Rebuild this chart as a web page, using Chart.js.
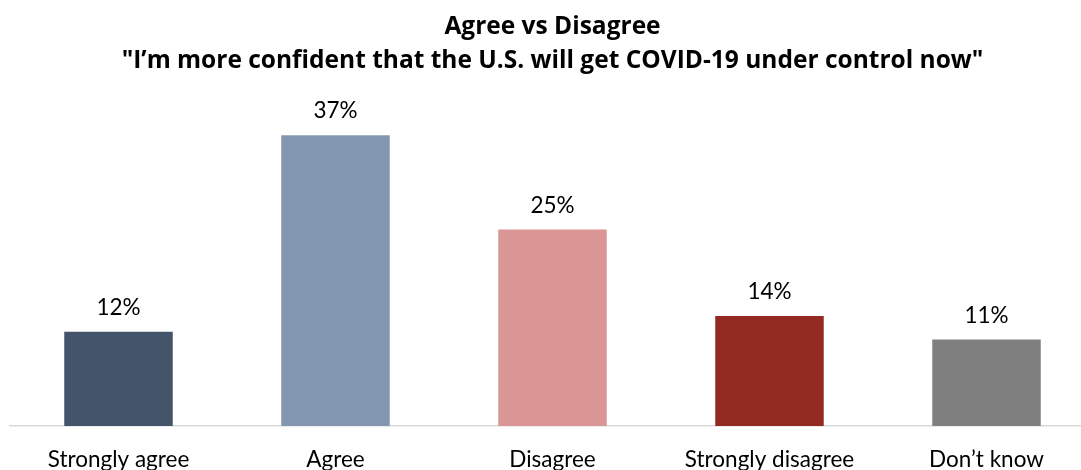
<!DOCTYPE html>
<html>
<head>
<meta charset="utf-8">
<script src="https://cdn.jsdelivr.net/npm/chart.js@4"></script>
<style>
  html, body { margin: 0; padding: 0; background: #fff; overflow: hidden; }
  #wrap { width: 1100px; height: 470px; }
</style>
</head>
<body>
<div id="wrap"><canvas id="agreeChart" width="1100" height="470"></canvas></div>
<script>
const categories = ['Strongly agree', 'Agree', 'Disagree', 'Strongly disagree', 'Don\u2019t know'];
const shares = [12, 37, 25, 14, 11];
const barColors = ['#44546a', '#8497b0', '#da9694', '#922a22', '#7f7f7f'];
const titleLines = ['Agree vs Disagree', '"I\u2019m more confident that the U.S. will get COVID-19 under control now"'];

const FONT = 'Lato, "Open Sans", sans-serif';
const TITLE_FONT = '"Open Sans", Lato, sans-serif';

// percent labels above each bar
const valueLabels = {
  id: 'valueLabels',
  afterDatasetsDraw(chart) {
    const ctx = chart.ctx;
    const meta = chart.getDatasetMeta(0);
    ctx.save();
    ctx.font = '22.5px ' + FONT;
    ctx.fillStyle = '#000';
    ctx.textAlign = 'center';
    ctx.textBaseline = 'middle';
    meta.data.forEach((bar, i) => {
      ctx.fillText(shares[i] + '%', bar.x, bar.y - 24);
    });
    ctx.restore();
  }
};

new Chart(document.getElementById('agreeChart'), {
  type: 'bar',
  data: {
    labels: categories,
    datasets: [{
      data: shares,
      backgroundColor: barColors,
      categoryPercentage: 1,
      barPercentage: 0.5
    }]
  },
  options: {
    responsive: false,
    animation: false,
    layout: { padding: { left: 10, right: 5, top: 0, bottom: 0 } },
    plugins: {
      legend: { display: false },
      tooltip: { enabled: false },
      title: {
        display: true,
        text: titleLines,
        color: '#000',
        font: { family: TITLE_FONT, size: 24.5, weight: 'bold', lineHeight: 1.4 },
        padding: { top: 10, bottom: 33 }
      }
    },
    scales: {
      x: {
        grid: { display: false, drawTicks: false },
        border: { display: true, color: '#d9d9d9', width: 1.5 },
        ticks: { color: '#000', font: { family: FONT, size: 22.5 }, padding: 20 },
        afterFit(scale) { scale.height = 44; }
      },
      y: {
        display: false,
        min: 0,
        max: 40
      }
    }
  },
  plugins: [valueLabels]
});
</script>
</body>
</html>
